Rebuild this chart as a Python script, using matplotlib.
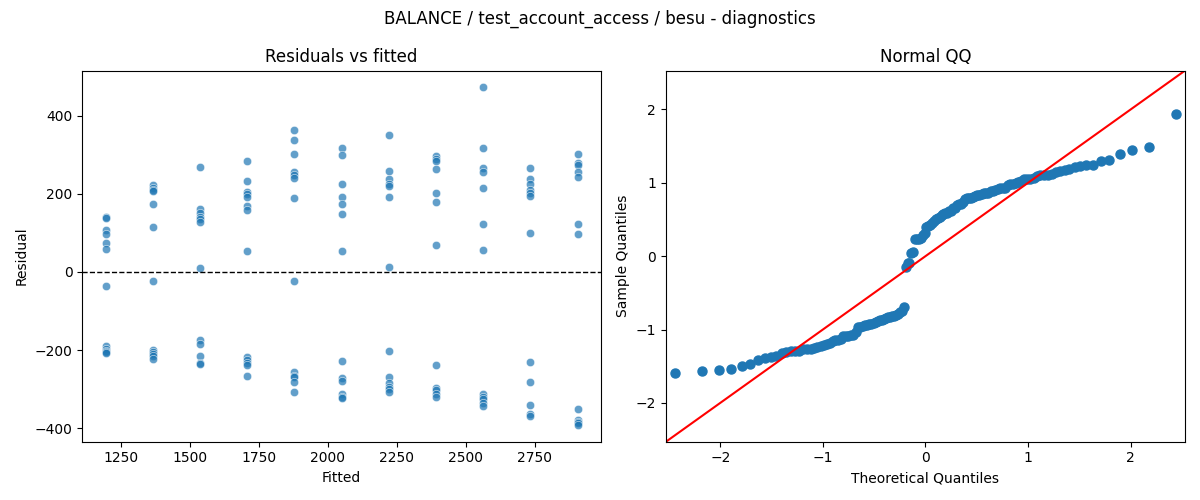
import numpy as np
import matplotlib
matplotlib.use("Agg")
import matplotlib.pyplot as plt
import seaborn as sns
from statistics import NormalDist

# Fitted levels (one per group) and the residuals
fitted_levels = [1196, 1367, 1538, 1709, 1880, 2051, 2222, 2393, 2564, 2735, 2906]
residual_groups = [
    [141, 139, 107, 97, 74, 58, -37, -190, -197, -201, -204, -208],
    [222, 216, 210, 207, 173, 114, -24, -199, -205, -211, -216, -222],
    [268, 160, 150, 141, 135, 128, 9, -173, -184, -214, -233, -236],
    [283, 234, 204, 199, 192, 168, 158, 54, -218, -224, -233, -239, -265],
    [362, 338, 303, 255, 249, 241, 188, -24, -255, -265, -269, -282, -306],
    [316, 298, 226, 193, 173, 148, 54, -228, -270, -279, -313, -320, -323],
    [351, 259, 239, 224, 219, 193, 12, -202, -268, -284, -293, -299, -308],
    [296, 289, 284, 264, 201, 180, 68, -238, -297, -303, -311, -320],
    [472, 318, 267, 255, 216, 122, 55, -313, -319, -326, -334, -342],
    [267, 239, 226, 209, 203, 195, 101, -230, -281, -340, -363, -368],
    [303, 278, 273, 255, 244, 124, 96, -350, -379, -383, -387, -391],
]

fitted = np.concatenate([[f] * len(g) for f, g in zip(fitted_levels, residual_groups)])
resid = np.concatenate(residual_groups).astype(float)

# QQ: standardised residuals vs normal quantiles (plotting positions i/(n+1))
n = len(resid)
sample_q = np.sort((resid - resid.mean()) / resid.std())
theo_q = np.array([NormalDist().inv_cdf(i / (n + 1)) for i in range(1, n + 1)])

fig, (ax1, ax2) = plt.subplots(1, 2, figsize=(12, 5), dpi=100)

sns.scatterplot(x=fitted, y=resid, alpha=0.7, ax=ax1)
ax1.axhline(0, color="black", linestyle="--", linewidth=1)
ax1.set_xlabel("Fitted")
ax1.set_ylabel("Residual")
ax1.set_title("Residuals vs fitted")

ax2.plot(theo_q, sample_q, "o", color="C0", markersize=6.5)
lim = (-2.53, 2.53)
ax2.plot(lim, lim, color="red", linewidth=1.5)
ax2.set_xlim(lim)
ax2.set_ylim(lim)
ax2.set_xlabel("Theoretical Quantiles")
ax2.set_ylabel("Sample Quantiles")
ax2.set_title("Normal QQ")

fig.suptitle("BALANCE / test_account_access / besu - diagnostics")
fig.tight_layout()
fig.savefig("out.png")
